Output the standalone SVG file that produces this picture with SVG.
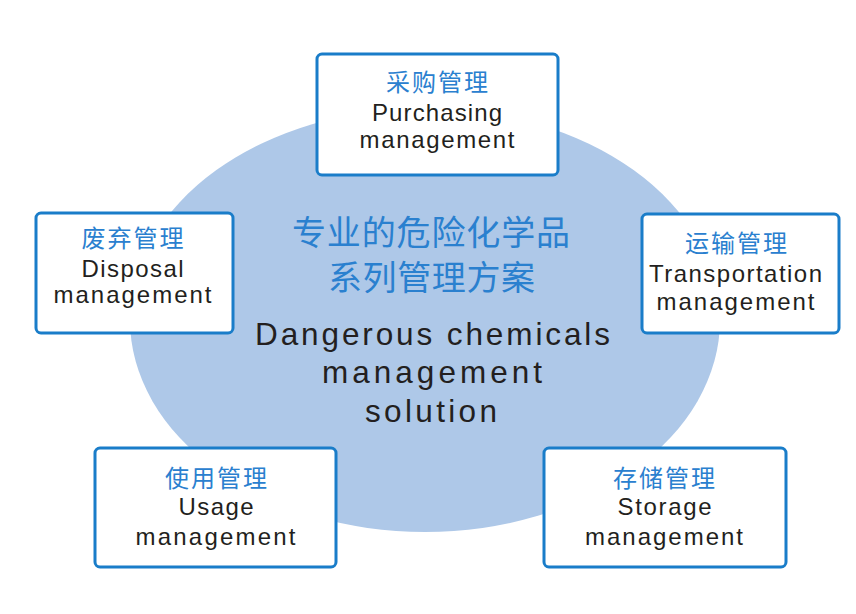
<svg xmlns="http://www.w3.org/2000/svg" width="856" height="614" viewBox="0 0 856 614">
<style>
.box{fill:#ffffff;stroke:#1a7dc9;stroke-width:3}
.cn{font-family:"Noto Sans CJK SC","Liberation Sans",sans-serif;fill:#2a80cf;text-anchor:middle}
.en{font-family:"Liberation Sans",Arial,sans-serif;fill:#231f20;text-anchor:middle}
.b{font-size:24px}
.be{font-size:24px}
.c{font-size:34px}
.ce{font-size:31.5px}
</style>
<rect x="0" y="0" width="856" height="614" fill="#ffffff"/>
<g id="center">
<ellipse cx="425" cy="320" rx="295" ry="212" fill="#aec8e8"/>
<text class="cn c" x="431" y="245" textLength="278" lengthAdjust="spacing">专业的危险化学品</text>
<text class="cn c" x="431.5" y="290" textLength="207" lengthAdjust="spacing">系列管理方案</text>
<text class="en ce" x="432.5" y="345" textLength="355" lengthAdjust="spacing">Dangerous chemicals</text>
<text class="en ce" x="432" y="383" textLength="220" lengthAdjust="spacing">management</text>
<text class="en ce" x="431" y="422" textLength="132" lengthAdjust="spacing">solution</text>
</g>
<g id="connectors"></g>
<g id="purchasing">
<rect class="box" x="317" y="54" width="241" height="121" rx="5"/>
<text class="cn b" x="437" y="91" textLength="102" lengthAdjust="spacing">采购管理</text>
<text class="en be" x="437" y="121" textLength="130" lengthAdjust="spacing">Purchasing</text>
<text class="en be" x="437" y="148" textLength="155" lengthAdjust="spacing">management</text>
</g>
<g id="disposal">
<rect class="box" x="36" y="213" width="197" height="120" rx="5"/>
<text class="cn b" x="132.5" y="247" textLength="102" lengthAdjust="spacing">废弃管理</text>
<text class="en be" x="132.5" y="277" textLength="102" lengthAdjust="spacing">Disposal</text>
<text class="en be" x="132.5" y="303" textLength="158" lengthAdjust="spacing">management</text>
</g>
<g id="transportation">
<rect class="box" x="642" y="214" width="197" height="119" rx="5"/>
<text class="cn b" x="736" y="252" textLength="102" lengthAdjust="spacing">运输管理</text>
<text class="en be" x="735.5" y="282" textLength="173" lengthAdjust="spacing">Transportation</text>
<text class="en be" x="735.5" y="310" textLength="158" lengthAdjust="spacing">management</text>
</g>
<g id="usage">
<rect class="box" x="95" y="448" width="241" height="119" rx="5"/>
<text class="cn b" x="216" y="487" textLength="102" lengthAdjust="spacing">使用管理</text>
<text class="en be" x="216" y="515" textLength="75" lengthAdjust="spacing">Usage</text>
<text class="en be" x="215.5" y="545" textLength="160" lengthAdjust="spacing">management</text>
</g>
<g id="storage">
<rect class="box" x="544" y="448" width="242" height="119" rx="5"/>
<text class="cn b" x="664" y="487" textLength="102" lengthAdjust="spacing">存储管理</text>
<text class="en be" x="664.5" y="515" textLength="94" lengthAdjust="spacing">Storage</text>
<text class="en be" x="664" y="545" textLength="158" lengthAdjust="spacing">management</text>
</g>
</svg>
